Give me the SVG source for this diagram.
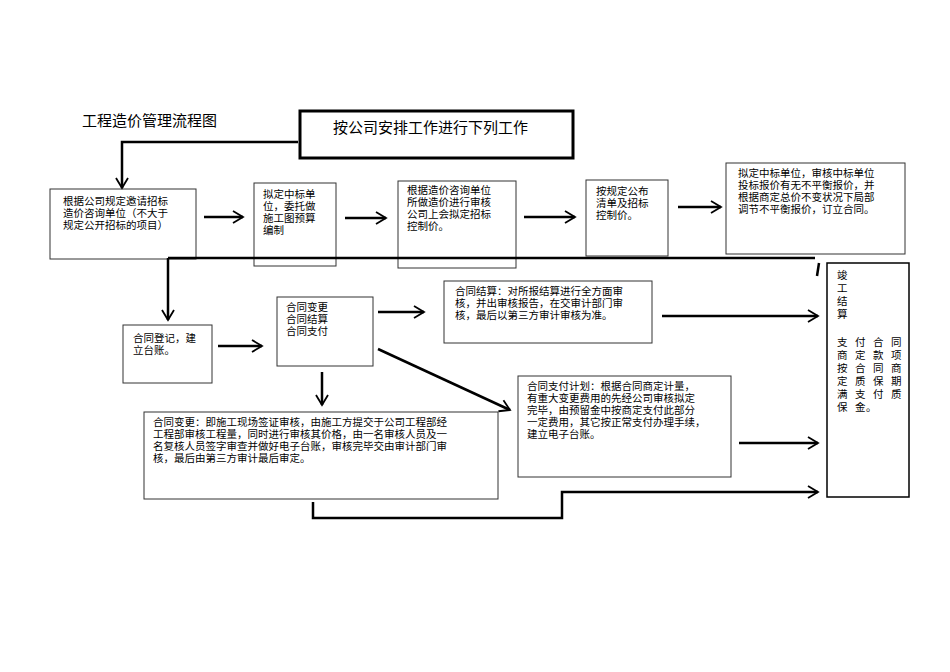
<svg xmlns="http://www.w3.org/2000/svg" width="950" height="672" viewBox="0 0 950 672">
<style>
text{font-family:"Noto Sans CJK SC","Liberation Sans",sans-serif;font-size:10.5px;fill:#000}
.b{fill:#fff;stroke:#333;stroke-width:1}
.c{fill:none;stroke:#000;stroke-width:2.5}
</style>
<defs>
<marker id="a" markerUnits="userSpaceOnUse" markerWidth="16" markerHeight="16" refX="12" refY="8" orient="auto" overflow="visible">
<polyline points="2,2 12,8 2,14" fill="none" stroke="#000" stroke-width="1.8"/>
</marker>
</defs>
<rect width="950" height="672" fill="#fff"/>
<text x="82" y="126" style="font-size:15px">工程造价管理流程图</text>
<g id="top"><rect x="300" y="111" width="273" height="47" fill="#fff" stroke="#000" stroke-width="3"/><text x="333" y="133" style="font-size:15px">按公司安排工作进行下列工作</text></g>
<g id="n1"><rect class="b" x="50" y="189" width="146" height="70"/><text x="63" y="205">根据公司规定邀请招标</text><text x="63" y="217">造价咨询单位（不大于</text><text x="63" y="229">规定公开招标的项目）</text></g>
<g id="n2"><rect class="b" x="254" y="183" width="82" height="83"/><text x="263" y="198">拟定中标单</text><text x="263" y="210">位，委托做</text><text x="263" y="222">施工图预算</text><text x="263" y="234">编制</text></g>
<g id="n3"><rect class="b" x="398" y="181" width="118" height="87"/><text x="407" y="194">根据造价咨询单位</text><text x="407" y="206">所做造价进行审核</text><text x="407" y="218">公司上会拟定招标</text><text x="407" y="230">控制价。</text></g>
<g id="n4"><rect class="b" x="586" y="180" width="82" height="76"/><text x="596" y="195">按规定公布</text><text x="596" y="207">清单及招标</text><text x="596" y="219">控制价。</text></g>
<g id="n5"><rect class="b" x="726" y="163" width="179" height="91"/><text x="738" y="177">拟定中标单位，审核中标单位</text><text x="738" y="189">投标报价有无不平衡报价，并</text><text x="738" y="201">根据商定总价不变状况下局部</text><text x="738" y="213">调节不平衡报价，订立合同。</text></g>
<g id="n6"><rect class="b" x="123" y="325" width="89" height="58"/><text x="133" y="342">合同登记，建</text><text x="133" y="354">立台账。</text></g>
<g id="n7"><rect class="b" x="277" y="297" width="96" height="69"/><text x="286" y="311">合同变更</text><text x="286" y="323">合同结算</text><text x="286" y="335">合同支付</text></g>
<g id="n8"><rect class="b" x="444" y="281" width="208" height="62"/><text x="455" y="295">合同结算：对所报结算进行全方面审</text><text x="455" y="307">核，并出审核报告，在交审计部门审</text><text x="455" y="319">核，最后以第三方审计审核为准。</text></g>
<g id="n9"><rect class="b" x="144" y="412" width="354" height="87"/><text x="153" y="426">合同变更：即施工现场签证审核，由施工方提交于公司工程部经</text><text x="153" y="438">工程部审核工程量，同时进行审核其价格，由一名审核人员及一</text><text x="153" y="450">名复核人员签字审查并做好电子台账，审核完毕交由审计部门审</text><text x="153" y="462">核，最后由第三方审计最后审定。</text></g>
<g id="n10"><rect class="b" x="518" y="376" width="213" height="101"/><text x="527" y="390">合同支付计划：根据合同商定计量，</text><text x="527" y="402">有重大变更费用的先经公司审核拟定</text><text x="527" y="414">完毕，由预留金中按商定支付此部分</text><text x="527" y="426">一定费用，其它按正常支付办理手续，</text><text x="527" y="438">建立电子台账。</text></g>
<g id="n11"><rect x="827" y="263" width="82" height="234" fill="#fff" stroke="#000" stroke-width="1.5"/>
<text x="837" y="279">竣</text><text x="837" y="292">工</text><text x="837" y="305">结</text><text x="837" y="318">算</text>
<text x="837 855 873 891" y="346">支付合同</text>
<text x="837 855 873 891" y="359">商定款项</text>
<text x="837 855 873 891" y="372">按合同商</text>
<text x="837 855 873 891" y="385">定质保期</text>
<text x="837 855 873 891" y="398">满支付质</text>
<text x="837 855 866" y="411">保金。</text></g>
<g id="connectors">
<path class="c" d="M298,142 H122 V188" marker-end="url(#a)"/>
<path class="c" d="M204,217 H243" marker-end="url(#a)"/>
<path class="c" d="M345,218 H386" marker-end="url(#a)"/>
<path class="c" d="M524,217 H575" marker-end="url(#a)"/>
<path class="c" d="M678,207 H721" marker-end="url(#a)"/>
<path class="c" d="M168,258 H815"/>
<path class="c" d="M168,258 V320" marker-end="url(#a)"/>
<path class="c" d="M819,263 L817,276"/>
<path class="c" d="M218,346 H262" marker-end="url(#a)"/>
<path class="c" d="M378,312 H424" marker-end="url(#a)"/>
<path class="c" d="M662,316 H818" marker-end="url(#a)"/>
<path class="c" d="M378,349 L510,410" marker-end="url(#a)"/>
<path class="c" d="M322,372 V405" marker-end="url(#a)"/>
<path class="c" d="M739,443 H818" marker-end="url(#a)"/>
<path class="c" d="M313,502 V518 H562 V492 H818" marker-end="url(#a)"/>
</g>
</svg>
